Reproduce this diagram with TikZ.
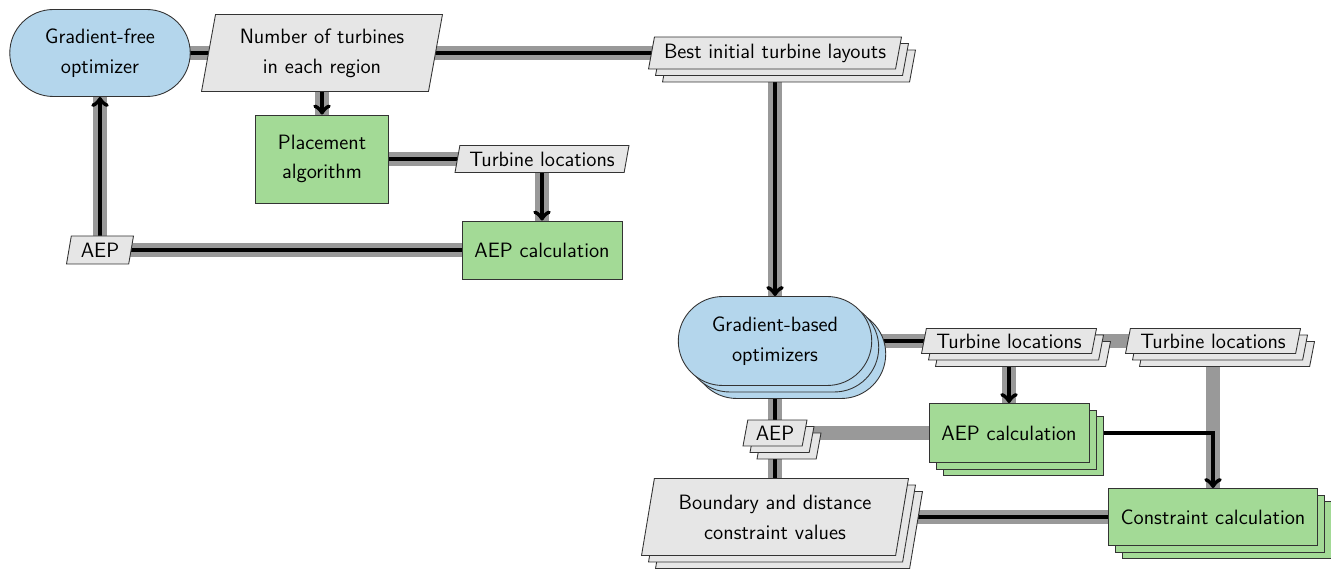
\documentclass[tikz,border=0pt]{standalone}
\usepackage{pgf,tikz}
\usetikzlibrary{arrows,shapes.geometric,shapes.misc,shadows,backgrounds}
\definecolor{optblue}{RGB}{180,214,236}
\definecolor{funcgreen}{RGB}{163,218,150}
\definecolor{datagray}{RGB}{230,230,230}

\begin{document}
\begin{tikzpicture}[x=0.02cm,y=-0.02cm,
    font=\sffamily\fontsize{11.8}{17}\selectfont,
    box/.style={draw=black!80,line width=0.5pt,align=center,inner sep=1pt},
    optimizer/.style={box,rounded rectangle,fill=optblue},
    analysis/.style={box,rectangle,fill=funcgreen},
    dataio/.style={box,trapezium,trapezium left angle=75,trapezium right angle=105,
        trapezium stretches body=true,fill=datagray},
    stacked/.style={double copy shadow={shadow xshift=0.14cm,shadow yshift=-0.13cm}},
    dataline/.style={line width=0.28cm,draw=black!40},
    procline/.style={line width=0.085cm,draw=black},
    >=to]
    \useasboundingbox (0,0) rectangle (1331,570);

    % gradient-free stage
    \node[optimizer,minimum width=3.68cm,minimum height=1.74cm] (gf) at (100,53) {Gradient-free\\optimizer};
    \node[dataio,minimum width=4.82cm,minimum height=1.54cm] (nturb) at (322,53) {Number of turbines\\in each region};
    \node[dataio,stacked,minimum width=5.06cm,minimum height=0.64cm] (best) at (775,53) {Best initial turbine layouts};
    \node[analysis,minimum width=2.66cm,minimum height=1.76cm] (place) at (322,159) {Placement\\algorithm};
    \node[dataio,minimum width=3.48cm,minimum height=0.54cm] (tlocs) at (542,159) {Turbine locations};
    \node[dataio,minimum width=1.34cm,minimum height=0.56cm] (aepout) at (100,250) {AEP};
    \node[analysis,minimum width=3.2cm,minimum height=1.16cm] (aepcalc) at (542,250) {AEP calculation};

    % gradient-based stage
    \node[optimizer,stacked,minimum width=3.94cm,minimum height=1.78cm] (gb) at (775,341) {Gradient-based\\optimizers};
    \node[dataio,stacked,minimum width=3.5cm,minimum height=0.5cm] (tlocsa) at (1009,341) {Turbine locations};
    \node[dataio,stacked,minimum width=3.5cm,minimum height=0.5cm] (tlocsb) at (1213,341) {Turbine locations};
    \node[dataio,stacked,minimum width=1.28cm,minimum height=0.52cm] (aepgb) at (775,433) {AEP};
    \node[analysis,stacked,minimum width=3.2cm,minimum height=1.18cm] (aepcalcb) at (1009,433) {AEP calculation};
    \node[dataio,stacked,minimum width=5.34cm,minimum height=1.54cm] (bounds) at (775,517) {Boundary and distance\\constraint values};
    \node[analysis,stacked,minimum width=4.18cm,minimum height=1.14cm] (concalc) at (1213,517) {Constraint calculation};

    \begin{scope}[on background layer]
        % data
        \draw[dataline] (gf.center) -- (best.center);
        \draw[dataline] (nturb.center) -- (place.center);
        \draw[dataline] (place.center) -- (tlocs.center);
        \draw[dataline] (tlocs.center) -- (aepcalc.center);
        \draw[dataline] (aepcalc.center) -- (aepout.center);
        \draw[dataline] (aepout.center) -- (gf.center);
        \draw[dataline] (best.center) -- (gb.center);
        \draw[dataline] (gb.center) -- (tlocsb.center);
        \draw[dataline] (tlocsa.center) -- (aepcalcb.center);
        \draw[dataline] (tlocsb.center) -- (concalc.center);
        \draw[dataline] (aepcalcb.center) -- (aepgb.center);
        \draw[dataline] (gb.center) -- (bounds.center);
        \draw[dataline] (bounds.center) -- (concalc.center);
        % process
        \draw[procline,->] (gf.center) -| (place);
        \draw[procline,->] (gf.center) -| (gb);
        \draw[procline,->] (place.center) -| (aepcalc);
        \draw[procline,->] (aepcalc.center) -| (gf);
        \draw[procline,->] (gb.center) -| (aepcalcb);
        \draw[procline,->] (aepcalcb.center) -| (concalc);
        \draw[procline] (concalc.center) -| (gb.center);
    \end{scope}
\end{tikzpicture}
\end{document}
